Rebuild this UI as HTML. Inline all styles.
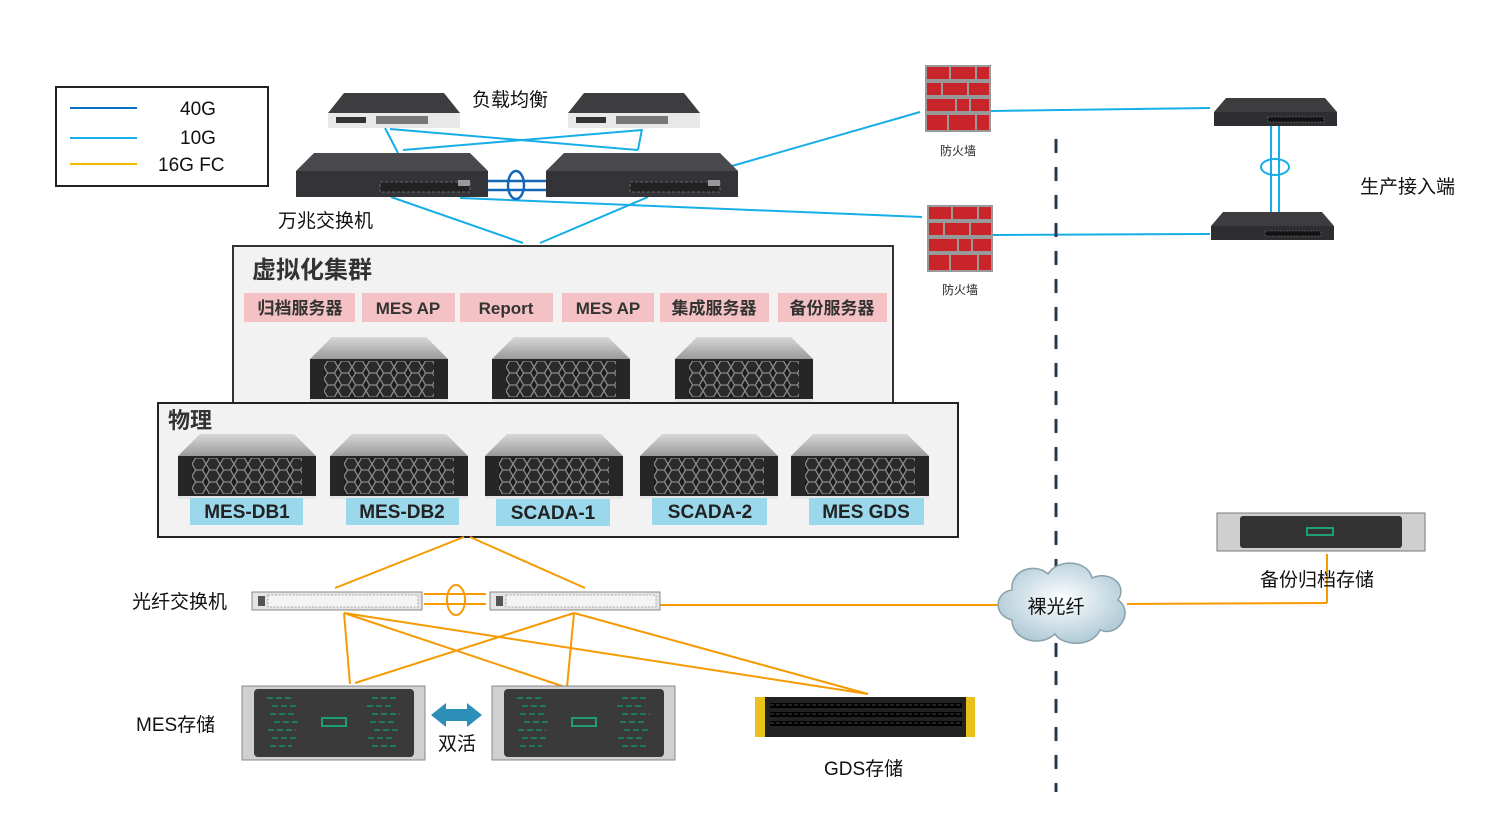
<!DOCTYPE html>
<html><head><meta charset="utf-8"><style>
html,body{margin:0;padding:0;background:#fff}
svg{display:block}
text{font-family:"Liberation Sans","Noto Sans CJK SC",sans-serif}
</style></head><body>
<svg width="1512" height="831" viewBox="0 0 1512 831" xmlns="http://www.w3.org/2000/svg">
<defs>
<pattern id="hex" width="14" height="12" patternUnits="userSpaceOnUse">
<rect width="14" height="12" fill="#1c1c1c"/>
<path d="M3.5 0 L10.5 0 L14 6 L10.5 12 L3.5 12 L0 6 Z" fill="#2a2a2a" stroke="#8a8a8a" stroke-width="1.3"/>
</pattern>
<linearGradient id="silver" x1="0" y1="0" x2="0" y2="1"><stop offset="0" stop-color="#d8d8d8"/><stop offset="1" stop-color="#9a9a9a"/></linearGradient>
<g id="srv">
<polygon points="22,0 116,0 138,22 0,22" fill="url(#silver)"/>
<rect x="0" y="22" width="138" height="40" fill="#262626"/>
<rect x="14" y="24" width="110" height="36" fill="url(#hex)"/>
<rect x="0" y="62" width="138" height="3" fill="#e6e6e6"/>
</g>
<g id="sw">
<polygon points="18,0 174,0 192,18 0,18" fill="#4a4a4e"/>
<rect x="0" y="18" width="192" height="26" fill="#333338"/>
<rect x="84" y="29" width="90" height="10" fill="#222" stroke="#777" stroke-width="0.8" stroke-dasharray="3 2"/>
<rect x="162" y="27" width="12" height="6" fill="#999"/>
</g>
<g id="lb">
<polygon points="16,0 116,0 132,20 0,20" fill="#3d3d40"/>
<rect x="0" y="20" width="132" height="15" fill="#e8e8e8"/>
<rect x="8" y="24" width="30" height="6" fill="#333"/>
<rect x="48" y="23" width="52" height="8" fill="#777"/>
</g>
<g id="asw">
<polygon points="12,0 111,0 123,14 0,14" fill="#3d3d40"/>
<rect x="0" y="14" width="123" height="14" fill="#2e2e32"/>
<rect x="54" y="19" width="56" height="5" fill="#111" stroke="#777" stroke-width="0.6" stroke-dasharray="2 1"/>
</g>
<g id="fw">
<rect x="0" y="0" width="66" height="67" fill="#999"/>
<g fill="#c8242a">
<rect x="2" y="2" width="22" height="12"/><rect x="26" y="2" width="24" height="12"/><rect x="52" y="2" width="12" height="12"/>
<rect x="2" y="18" width="14" height="12"/><rect x="18" y="18" width="24" height="12"/><rect x="44" y="18" width="20" height="12"/>
<rect x="2" y="34" width="28" height="12"/><rect x="32" y="34" width="12" height="12"/><rect x="46" y="34" width="18" height="12"/>
<rect x="2" y="50" width="20" height="15"/><rect x="24" y="50" width="26" height="15"/><rect x="52" y="50" width="12" height="15"/>
</g>
</g>
<g id="fc">
<rect x="0" y="0" width="170" height="18" fill="#e4e4e4" stroke="#888" stroke-width="1"/>
<rect x="16" y="3" width="150" height="12" fill="#f4f4f4" stroke="#999" stroke-width="0.8" stroke-dasharray="2 1.5"/>
<rect x="6" y="4" width="7" height="10" fill="#555"/>
</g>
<g id="mst">
<rect x="0" y="0" width="183" height="74" fill="#d0d0d0" stroke="#888"/>
<rect x="12" y="3" width="160" height="68" rx="4" fill="#3a3a3a"/>
<rect x="80" y="32" width="24" height="8" fill="none" stroke="#1f9e78" stroke-width="2"/>
<g stroke="#1d7a5a" stroke-width="2" stroke-dasharray="6 3">
<path d="M25 12 H50 M30 20 H55 M28 28 H52 M32 36 H58 M26 44 H54 M30 52 H56 M28 60 H50 M130 12 H155 M125 20 H150 M130 28 H158 M128 36 H152 M132 44 H156 M126 52 H150 M130 60 H154"/>
</g>
</g>
</defs>

<!-- legend -->
<rect x="56" y="87" width="212" height="99" fill="#fff" stroke="#222" stroke-width="2"/>
<line x1="70" y1="108" x2="137" y2="108" stroke="#0b6fc4" stroke-width="2"/>
<line x1="70" y1="138" x2="137" y2="138" stroke="#17aee8" stroke-width="2"/>
<line x1="70" y1="164" x2="137" y2="164" stroke="#f5b800" stroke-width="2"/>
<text x="180" y="115" font-size="19" fill="#111">40G</text>
<text x="180" y="144" font-size="19" fill="#111">10G</text>
<text x="158" y="171" font-size="19" fill="#111">16G FC</text>

<!-- blue lines -->
<g stroke="#17aee8" stroke-width="2" fill="none">
<line x1="385" y1="128" x2="398" y2="153"/>
<line x1="390" y1="129" x2="638" y2="150"/>
<line x1="642" y1="129" x2="638" y2="150"/>
<line x1="642" y1="130" x2="403" y2="150"/>
<line x1="391" y1="197" x2="523" y2="243"/>
<line x1="648" y1="197" x2="540" y2="243"/>
<line x1="460" y1="198" x2="922" y2="217"/>
<line x1="725" y1="168" x2="920" y2="112"/>
<line x1="991" y1="111" x2="1210" y2="108"/>
<line x1="993" y1="235" x2="1210" y2="234"/>
<line x1="1271" y1="126" x2="1271" y2="212"/>
<line x1="1279" y1="126" x2="1279" y2="212"/>
<ellipse cx="1275" cy="167" rx="14" ry="8"/>
</g>
<g stroke="#1466b8" stroke-width="2.5" fill="none">
<line x1="488" y1="181" x2="546" y2="181"/>
<line x1="488" y1="190" x2="546" y2="190"/>
<ellipse cx="516" cy="185" rx="8" ry="14"/>
</g>

<use href="#lb" x="328" y="93"/>
<use href="#lb" x="568" y="93"/>
<text x="472" y="106" font-size="19" fill="#111">负载均衡</text>
<use href="#sw" x="296" y="153"/>
<use href="#sw" x="546" y="153"/>
<text x="278" y="227" font-size="19" fill="#111">万兆交换机</text>

<use href="#fw" x="925" y="65"/>
<text x="940" y="155" font-size="12" fill="#222">防火墙</text>
<use href="#fw" x="927" y="205"/>
<text x="942" y="294" font-size="12" fill="#222">防火墙</text>

<use href="#asw" x="1214" y="98"/>
<use href="#asw" x="1211" y="212"/>
<text x="1360" y="193" font-size="19" fill="#111">生产接入端</text>

<!-- dashed line -->
<line x1="1056" y1="139" x2="1056" y2="792" stroke="#2a3a4e" stroke-width="3" stroke-dasharray="14 14"/>

<!-- cluster box -->
<rect x="233" y="246" width="660" height="157" fill="#f2f2f2" stroke="#333" stroke-width="2"/>
<text x="252" y="278" font-size="24" font-weight="bold" fill="#333">虚拟化集群</text>
<g fill="#f4c2c4">
<rect x="244" y="293" width="111" height="29"/><rect x="362" y="293" width="93" height="29"/><rect x="460" y="293" width="93" height="29"/>
<rect x="562" y="293" width="92" height="29"/><rect x="660" y="293" width="109" height="29"/><rect x="778" y="293" width="109" height="29"/>
</g>
<g font-size="17" font-weight="bold" fill="#333" text-anchor="middle">
<text x="300" y="314">归档服务器</text><text x="408" y="314">MES AP</text><text x="506" y="314">Report</text>
<text x="608" y="314">MES AP</text><text x="714" y="314">集成服务器</text><text x="832" y="314">备份服务器</text>
</g>
<use href="#srv" x="310" y="337"/>
<use href="#srv" x="492" y="337"/>
<use href="#srv" x="675" y="337"/>

<!-- physical box -->
<rect x="158" y="403" width="800" height="134" fill="#f2f2f2" stroke="#222" stroke-width="2"/>
<text x="168" y="428" font-size="22" font-weight="bold" fill="#333">物理</text>
<use href="#srv" x="178" y="434"/>
<use href="#srv" x="330" y="434"/>
<use href="#srv" x="485" y="434"/>
<use href="#srv" x="640" y="434"/>
<use href="#srv" x="791" y="434"/>
<g fill="#9bd8ec">
<rect x="190" y="498" width="113" height="27"/><rect x="346" y="498" width="113" height="27"/><rect x="496" y="499" width="114" height="27"/>
<rect x="652" y="498" width="115" height="27"/><rect x="809" y="498" width="115" height="27"/>
</g>
<g font-size="19" font-weight="bold" fill="#222" text-anchor="middle">
<text x="247" y="518">MES-DB1</text><text x="402" y="518">MES-DB2</text><text x="553" y="519">SCADA-1</text>
<text x="710" y="518">SCADA-2</text><text x="866" y="518">MES GDS</text>
</g>

<!-- orange -->
<g stroke="#f59a00" stroke-width="2" fill="none">
<line x1="464" y1="537" x2="335" y2="588"/>
<line x1="470" y1="537" x2="585" y2="588"/>
<line x1="424" y1="594" x2="486" y2="594"/>
<line x1="424" y1="604" x2="486" y2="604"/>
<ellipse cx="456" cy="600" rx="9" ry="15"/>
<line x1="660" y1="605" x2="1000" y2="605"/>
<line x1="1127" y1="604" x2="1327" y2="603"/>
<line x1="1327" y1="603" x2="1327" y2="554"/>
<line x1="344" y1="613" x2="350" y2="684"/>
<line x1="344" y1="613" x2="565" y2="687"/>
<line x1="344" y1="613" x2="868" y2="694"/>
<line x1="574" y1="613" x2="355" y2="683"/>
<line x1="574" y1="613" x2="567" y2="687"/>
<line x1="574" y1="613" x2="868" y2="694"/>
</g>
<use href="#fc" x="252" y="592"/>
<use href="#fc" x="490" y="592"/>
<text x="132" y="608" font-size="19" fill="#111">光纤交换机</text>

<!-- cloud -->
<defs><radialGradient id="cg" cx="0.5" cy="0.45" r="0.6"><stop offset="0" stop-color="#ffffff"/><stop offset="1" stop-color="#a9c6d4"/></radialGradient></defs>
<path d="M1012 620 C992 615 995 592 1012 590 C1010 570 1035 562 1048 574 C1058 558 1088 560 1092 578 C1110 570 1128 585 1118 600 C1135 612 1118 638 1100 630 C1092 648 1062 646 1055 634 C1040 648 1012 640 1012 620 Z" fill="url(#cg)" stroke="#8aa0aa" stroke-width="1.5"/>
<text x="1056" y="613" font-size="19" fill="#111" text-anchor="middle">裸光纤</text>

<!-- backup storage -->
<rect x="1217" y="513" width="208" height="38" fill="#cfcfcf" stroke="#777"/>
<rect x="1240" y="516" width="162" height="32" rx="3" fill="#333"/>
<rect x="1307" y="528" width="26" height="7" fill="none" stroke="#1f9e78" stroke-width="2"/>
<text x="1260" y="586" font-size="19" fill="#111">备份归档存储</text>

<!-- MES storage -->
<use href="#mst" x="242" y="686"/>
<use href="#mst" x="492" y="686"/>
<path d="M431 715 L446 703 L446 709 L467 709 L467 703 L482 715 L467 727 L467 721 L446 721 L446 727 Z" fill="#2b8fb8"/>
<text x="438" y="750" font-size="19" fill="#111">双活</text>
<text x="136" y="731" font-size="19" fill="#111">MES存储</text>

<!-- GDS -->
<rect x="755" y="697" width="220" height="40" fill="#222"/>
<rect x="755" y="697" width="10" height="40" fill="#e8c21a"/>
<rect x="966" y="697" width="9" height="40" fill="#e8c21a"/>
<g fill="#000"><rect x="770" y="703" width="192" height="5"/><rect x="770" y="712" width="192" height="5"/><rect x="770" y="721" width="192" height="5"/></g>
<g stroke="#444" stroke-width="1" stroke-dasharray="4 2"><line x1="770" y1="705" x2="962" y2="705"/><line x1="770" y1="714" x2="962" y2="714"/><line x1="770" y1="723" x2="962" y2="723"/></g>
<text x="824" y="775" font-size="19" fill="#111">GDS存储</text>
</svg>
</body></html>
